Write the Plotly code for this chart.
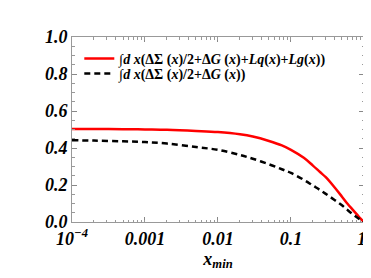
import plotly.graph_objects as go

x_min = [1e-4, 2e-4, 5e-4, 1e-3, 2e-3, 5e-3, 0.01, 0.02, 0.03, 0.05, 0.075, 0.1, 0.15,
         0.2, 0.25, 0.3, 0.4, 0.5, 0.6, 0.7, 0.8, 0.9, 1.0]
red_vals = [0.503, 0.503, 0.502, 0.500, 0.498, 0.492, 0.486, 0.474, 0.462, 0.438, 0.414, 0.39,
            0.347, 0.305, 0.27, 0.242, 0.185, 0.137, 0.097, 0.067, 0.041, 0.018, 0.0]
black_vals = [0.442, 0.440, 0.436, 0.432, 0.424, 0.405, 0.39, 0.362, 0.342, 0.312, 0.285, 0.265,
              0.228, 0.197, 0.173, 0.152, 0.118, 0.09, 0.064, 0.043, 0.026, 0.012, 0.0]

red_name = "∫<b><i>d x</i>(ΔΣ (<i>x</i>)/2+Δ<i>G</i> (<i>x</i>)+<i>Lq</i>(<i>x</i>)+<i>Lg</i>(<i>x</i>))</b>"
black_name = "∫<b><i>d x</i>(ΔΣ (<i>x</i>)/2+Δ<i>G</i> (<i>x</i>))</b>"

x_tickvals = [1e-4, 1e-3, 1e-2, 1e-1, 1]
x_ticktext = ["10<sup>−4</sup>", "0.001", "0.01", "0.1", "1 "]
y_tickvals = [0.0, 0.2, 0.4, 0.6, 0.8, 1.0]
y_ticktext = ["0.0", "0.2", "0.4", "0.6", "0.8", "1.0"]

fig = go.Figure()
fig.add_trace(go.Scatter(x=x_min, y=red_vals, mode="lines", name=red_name, legend="legend",
                         line=dict(color="#ff0000", width=2.5, shape="spline", smoothing=1)))
fig.add_trace(go.Scatter(x=x_min, y=black_vals, mode="lines", name=black_name, legend="legend2",
                         line=dict(color="black", width=2.5, dash="6px,4px", shape="spline", smoothing=1)))
# invisible trace to activate minor-tick overlay axis
fig.add_trace(go.Scatter(x=[1e-4, 1], y=[None, None], xaxis="x2", showlegend=False, hoverinfo="skip"))

tickfont = dict(family="Liberation Serif", size=18, color="black", weight="bold", style="italic")
legfont = dict(family="Liberation Serif", size=14, color="black")

fig.update_layout(
    width=371, height=278,
    margin=dict(l=64, r=8, t=29, b=64),
    paper_bgcolor="white", plot_bgcolor="white",
    showlegend=True,
    legend=dict(x=0.025, y=0.881, xanchor="left", yanchor="middle", font=legfont,
                bgcolor="rgba(0,0,0,0)", itemwidth=30, borderwidth=0),
    legend2=dict(x=0.025, y=0.80, xanchor="left", yanchor="middle", font=legfont,
                 bgcolor="rgba(0,0,0,0)", itemwidth=30, borderwidth=0),
    xaxis=dict(type="log", range=[-4, 0.001], tickvals=x_tickvals, ticktext=x_ticktext,
               tickfont=tickfont, ticks="inside", ticklen=5, tickcolor="#888",
               ticklabeloverflow="allow", ticklabelposition="outside",
               showline=True, linecolor="#999", linewidth=1, mirror="ticks",
               showgrid=False, zeroline=False,
               title=dict(text="<b><i>x<sub>min</sub></i></b>",
                          font=dict(family="Liberation Serif", size=18, color="black"),
                          standoff=4)),
    xaxis2=dict(type="log", range=[-4, 0.001], overlaying="x", anchor="y", side="bottom",
                dtick="D1", showticklabels=False, ticks="inside", ticklen=2.5, tickcolor="#999",
                showline=False, mirror="ticks", showgrid=False, zeroline=False),
    yaxis=dict(range=[0, 1], tickvals=y_tickvals, ticktext=y_ticktext,
               tickfont=tickfont, ticks="inside", ticklen=5, tickcolor="#888",
               showline=True, linecolor="#999", linewidth=1, mirror="ticks",
               showgrid=False, zeroline=False,
               minor=dict(ticks="inside", ticklen=2.5, tickcolor="#999", dtick=0.05, showgrid=False)),
)

fig.write_html("out.html")
